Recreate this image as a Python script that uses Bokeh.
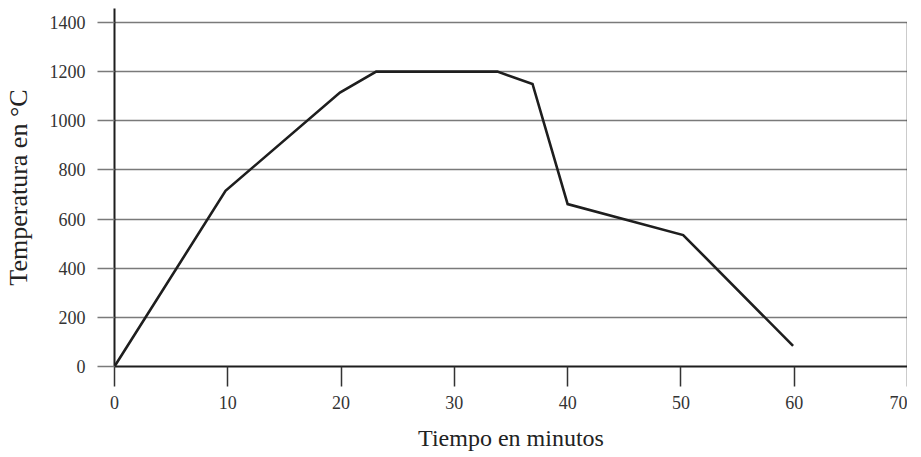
from bokeh.plotting import figure
from bokeh.models import Range1d, FixedTicker
from bokeh.embed import file_html
from bokeh.resources import INLINE

# Data
time_min = [0, 9.8, 19.9, 23.1, 33.8, 36.9, 40.0, 50.2, 59.9]
temp_c = [0, 715, 1115, 1200, 1200, 1150, 661, 535, 84]
x_ticks = [0, 10, 20, 30, 40, 50, 60, 70]
y_ticks = [0, 200, 400, 600, 800, 1000, 1200, 1400]

FONT = "Liberation Serif"
GRID = "#7a7a7a"
INK = "#1e1e1e"

p = figure(width=907, height=453, output_backend="svg", toolbar_location=None,
           x_range=Range1d(0, 70), y_range=Range1d(0, 1457),
           min_border_left=106, min_border_right=0, min_border_top=8,
           min_border_bottom=87)
p.outline_line_color = None
p.background_fill_color = "white"
p.border_fill_color = "white"

# grid
p.xgrid.grid_line_color = None
p.ygrid.ticker = FixedTicker(ticks=y_ticks)
p.ygrid.grid_line_color = GRID
p.ygrid.grid_line_width = 1.3

# right frame line (at the last x tick, up to the last y tick)
p.segment(x0=[x_ticks[-1]], y0=[y_ticks[0]], x1=[x_ticks[-1]], y1=[y_ticks[-1]],
          line_color="#333333", line_width=1.5)

# data line
p.line(time_min, temp_c, line_color=INK, line_width=2.6, line_join="miter")

# x axis
xa = p.xaxis[0]
xa.ticker = FixedTicker(ticks=x_ticks)
xa.minor_tick_line_color = None
xa.major_tick_in = 0
xa.major_tick_out = 20
xa.major_tick_line_color = "#333333"
xa.major_tick_line_width = 1.5
xa.axis_line_color = INK
xa.axis_line_width = 2
xa.major_label_text_font = FONT
xa.major_label_text_font_size = "18px"
xa.major_label_text_color = "#333333"
xa.major_label_standoff = 9
xa.axis_label = "Tiempo en minutos"
xa.axis_label_text_font = FONT
xa.axis_label_text_font_size = "24px"
xa.axis_label_text_font_style = "normal"
xa.axis_label_text_color = "#222222"
xa.axis_label_standoff = 13

# y axis
ya = p.yaxis[0]
ya.ticker = FixedTicker(ticks=y_ticks)
ya.minor_tick_line_color = None
ya.major_tick_in = 0
ya.major_tick_out = 17
ya.major_tick_line_color = GRID
ya.major_tick_line_width = 1.3
ya.axis_line_color = INK
ya.axis_line_width = 2
ya.major_label_text_font = FONT
ya.major_label_text_font_size = "18px"
ya.major_label_text_color = "#333333"
ya.major_label_standoff = 12
ya.axis_label = "Temperatura en °C"
ya.axis_label_text_font = FONT
ya.axis_label_text_font_size = "26px"
ya.axis_label_text_font_style = "normal"
ya.axis_label_text_color = "#222222"
ya.axis_label_standoff = 14

open("out.html", "w").write(file_html(p, INLINE))
